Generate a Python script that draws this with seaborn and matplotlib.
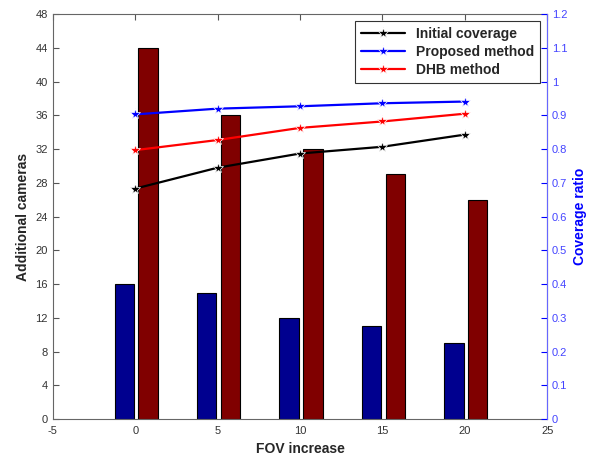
import numpy as np
import pandas as pd
import matplotlib
matplotlib.use('Agg')
import matplotlib.pyplot as plt
import seaborn as sns

# data
fov = np.array([0, 5, 10, 15, 20])
cams_proposed = [16, 15, 12, 11, 9]
cams_dhb = [44, 36, 32, 29, 26]
cov_initial = [0.683, 0.745, 0.787, 0.807, 0.843]
cov_proposed = [0.903, 0.920, 0.927, 0.936, 0.941]
cov_dhb = [0.797, 0.827, 0.863, 0.882, 0.905]

sns.set_style('white')
plt.rcParams['font.family'] = ['Liberation Sans', 'DejaVu Sans']

fig = plt.figure(figsize=(6, 4.57), dpi=100)
ax = fig.add_axes([0.088, 0.083, 0.824, 0.886])

# grouped bars
sns.barplot(x=fov - 0.66, y=cams_proposed, native_scale=True, width=0.236,
            color='#00008f', saturation=1, edgecolor='black', linewidth=0.8, ax=ax)
sns.barplot(x=fov + 0.78, y=cams_dhb, native_scale=True, width=0.236,
            color='#800000', saturation=1, edgecolor='black', linewidth=0.8, ax=ax)

ax.set_xlim(-5, 25)
ax.set_ylim(0, 48)
ax.set_xticks(np.arange(-5, 26, 5))
ax.set_xticklabels([str(v) for v in range(-5, 26, 5)])
ax.set_yticks(np.arange(0, 49, 4))
ax.tick_params(direction='in', top=True, right=False, labelsize=8, length=4,
               color='#555555', labelcolor='#333333')
ax.tick_params(axis='x', pad=5)
ax.set_xlabel('FOV increase', fontsize=10, fontweight='bold')
ax.set_ylabel('Additional cameras', fontsize=10, fontweight='bold')
for s in ax.spines.values():
    s.set_color('#666666')
    s.set_linewidth(0.8)

# coverage ratio on the right axis
ax2 = ax.twinx()
lines = pd.DataFrame({
    'FOV': np.concatenate([fov, fov, fov]),
    'ratio': cov_initial + cov_proposed + cov_dhb,
    'series': ['Initial coverage'] * 5 + ['Proposed method'] * 5 + ['DHB method'] * 5,
})
sns.lineplot(data=lines, x='FOV', y='ratio', hue='series',
             palette=['black', '#0000ff', '#ff0000'], marker='*', markersize=8,
             markeredgewidth=0.5, linewidth=1.6, ax=ax2)
ax2.set_xlim(-5, 25)
ax2.set_ylim(0, 1.2)
ax2.set_yticks(np.arange(0, 1.21, 0.1))
ax2.set_yticklabels(['0', '0.1', '0.2', '0.3', '0.4', '0.5', '0.6', '0.7', '0.8',
                     '0.9', '1', '1.1', '1.2'])
ax2.tick_params(direction='in', labelsize=8, length=4, color='#0000ff',
                labelcolor='#4444ff')
ax2.set_xlabel('')
ax2.set_ylabel('Coverage ratio', fontsize=10, fontweight='bold', color='#0000ff')
ax2.spines['right'].set_color('#6666ff')
ax2.spines['right'].set_linewidth(0.8)
for s in ['left', 'top', 'bottom']:
    ax2.spines[s].set_visible(False)

leg = ax2.legend(loc='upper right', frameon=True, fancybox=False,
                 prop={'size': 10, 'weight': 'bold'},
                 edgecolor='black', borderaxespad=0.5, handlelength=3.2,
                 labelspacing=0.3)
leg.get_frame().set_linewidth(0.8)

fig.savefig('out.png', dpi=100)
